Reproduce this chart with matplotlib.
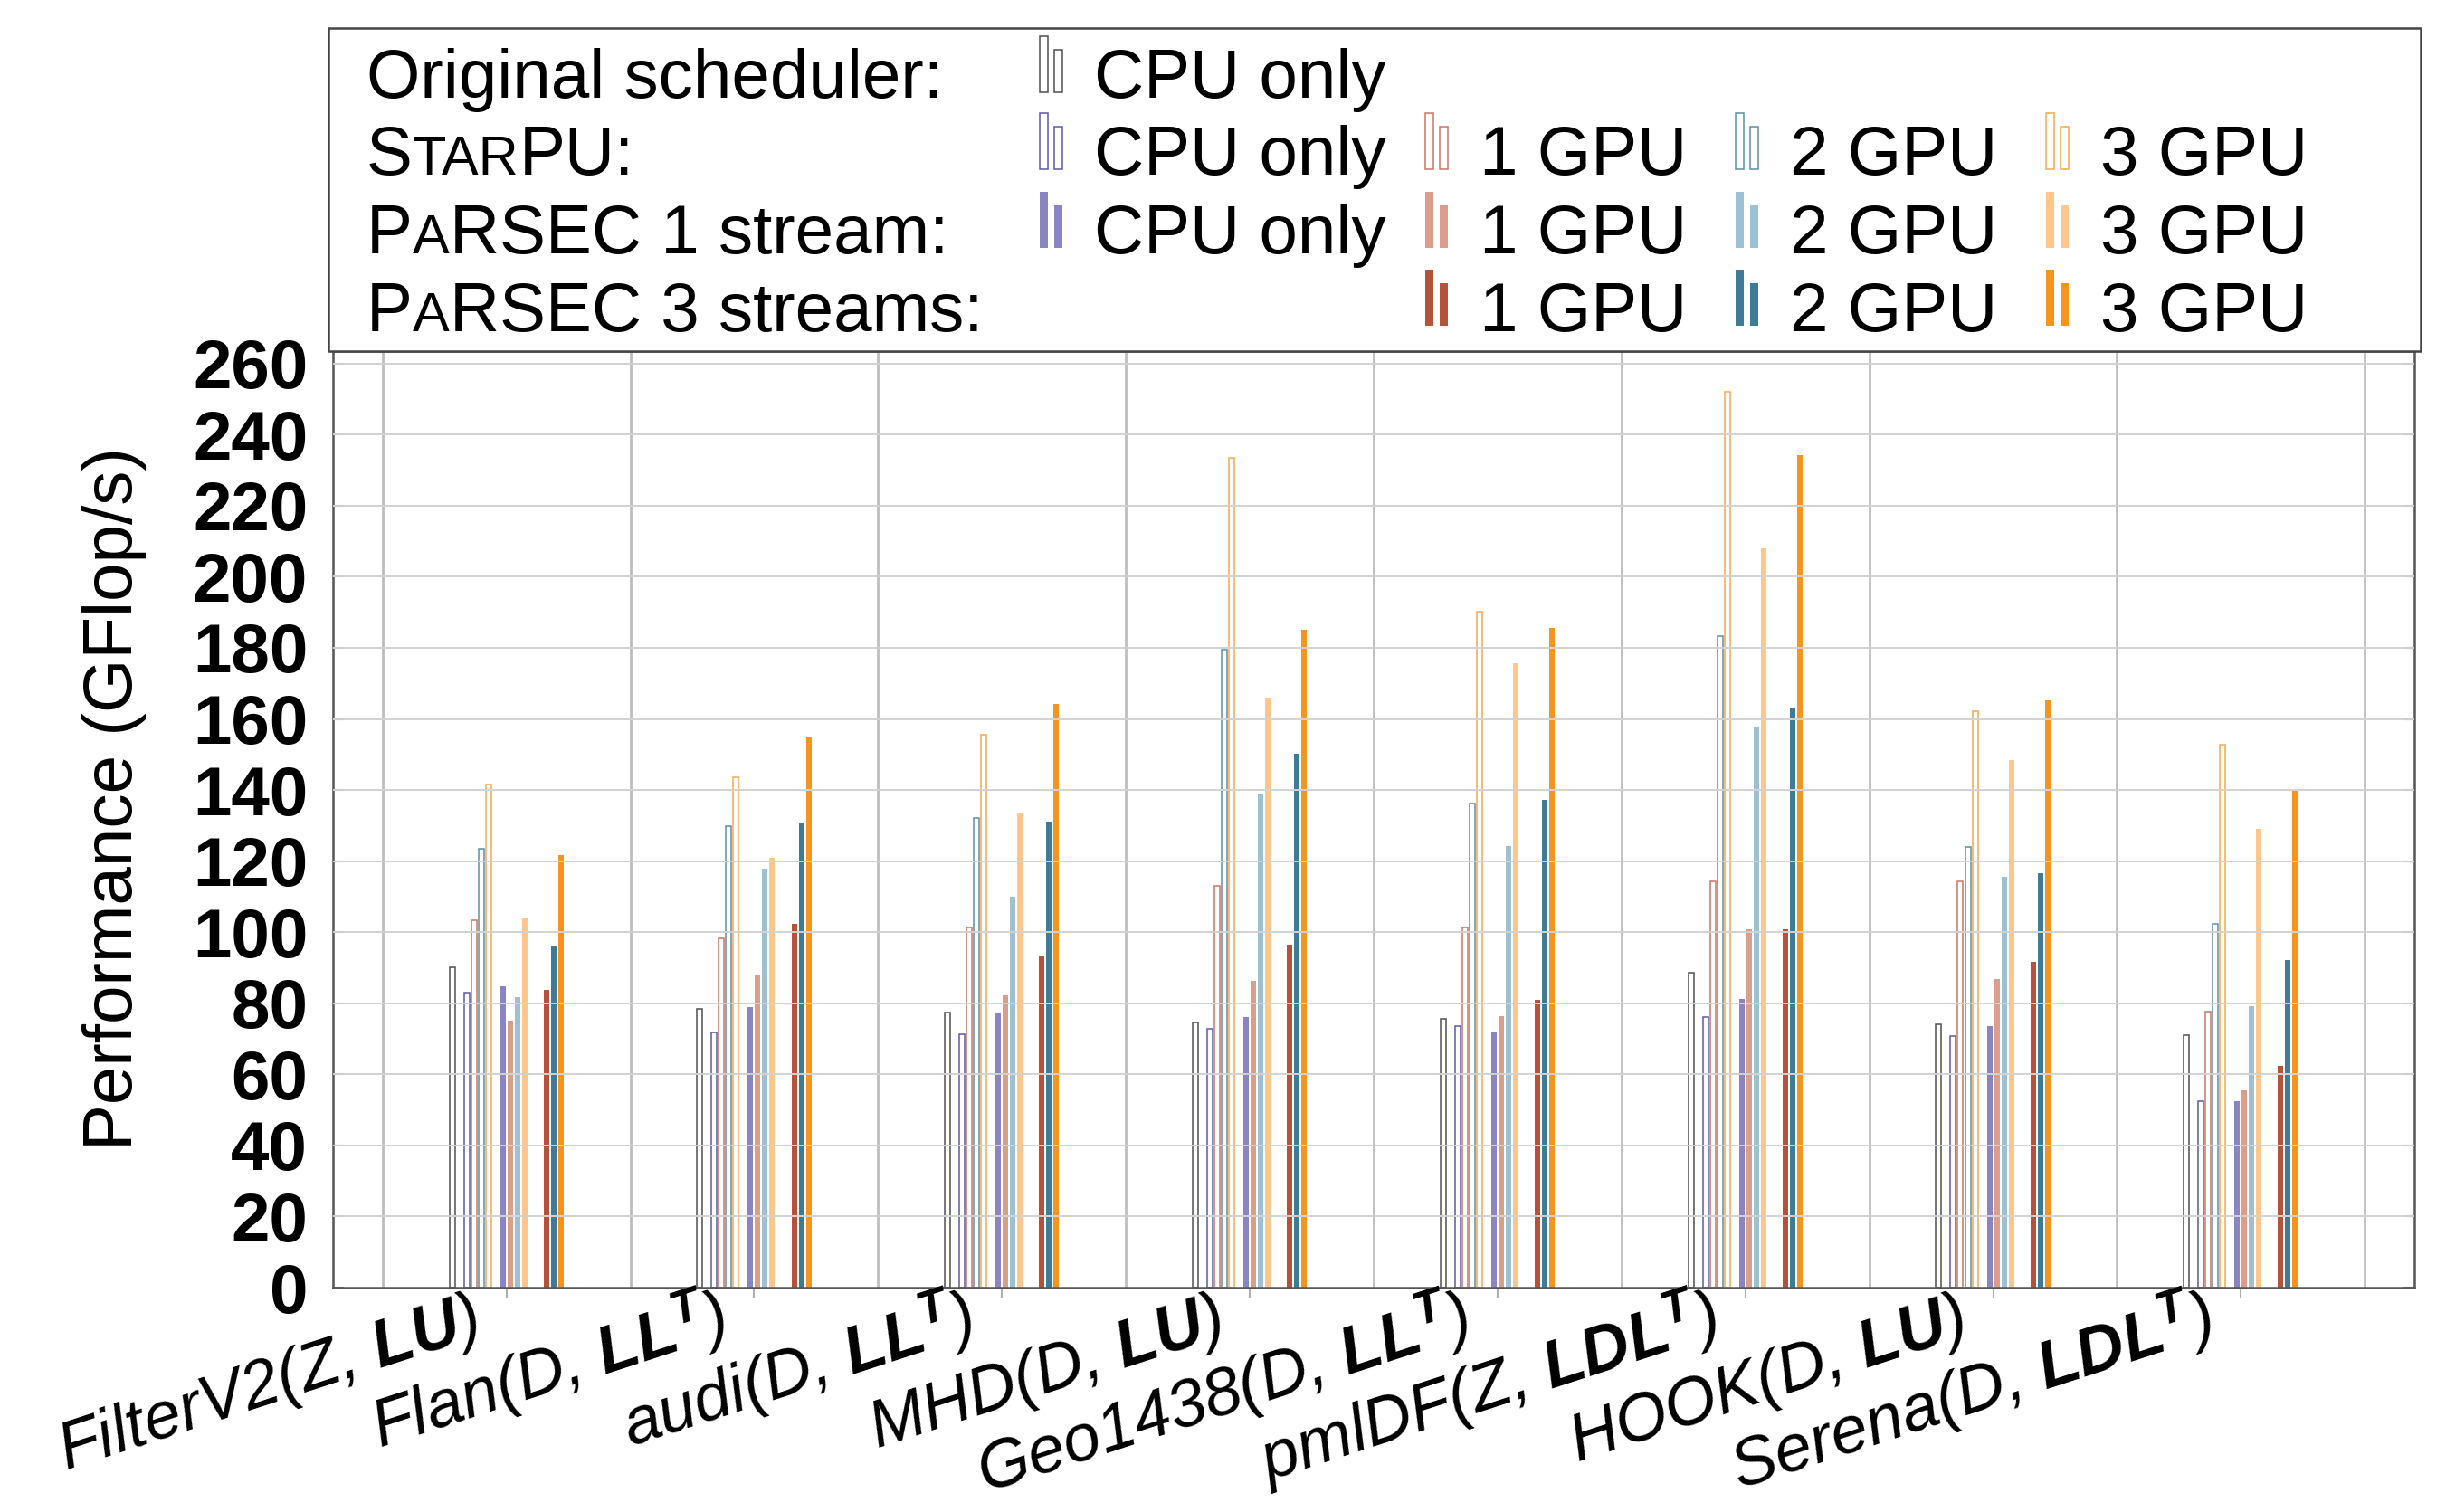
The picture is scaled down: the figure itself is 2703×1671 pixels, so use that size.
import matplotlib
matplotlib.use("Agg")
from matplotlib import pyplot as plt
from matplotlib.patches import Rectangle
import numpy as np

# fonts: Helvetica-like everywhere, bold italic for the factorization names
plt.rcParams['font.family'] = ['Liberation Sans', 'DejaVu Sans']
plt.rcParams['mathtext.fontset'] = 'custom'
plt.rcParams['mathtext.rm'] = 'Liberation Sans:italic'
plt.rcParams['mathtext.it'] = 'Liberation Sans:italic'
plt.rcParams['mathtext.bf'] = 'Liberation Sans:italic:bold'

W, H = 2703, 1671
FS = 55

matrices = [r"FilterV2(Z, $\mathbf{LU}$)", r"Flan(D, $\mathbf{LL}^{\mathbf{T}}$)",
            r"audi(D, $\mathbf{LL}^{\mathbf{T}}$)", r"MHD(D, $\mathbf{LU}$)",
            r"Geo1438(D, $\mathbf{LL}^{\mathbf{T}}$)", r"pmlDF(Z, $\mathbf{LDL}^{\mathbf{T}}$)",
            r"HOOK(D, $\mathbf{LU}$)", r"Serena(D, $\mathbf{LDL}^{\mathbf{T}}$)"]

orig_cpu    = [90.0, 78.3, 77.3, 74.5, 75.7, 88.6, 74.2, 71.1]
starpu_cpu  = [83.0, 71.9, 71.4, 72.8, 73.7, 76.1, 70.7, 52.5]
starpu_1gpu = [103.4, 98.3, 101.4, 113.1, 101.4, 114.4, 114.4, 77.6]
starpu_2gpu = [123.4, 129.8, 132.2, 179.5, 136.3, 183.3, 124.1, 102.4]
starpu_3gpu = [141.6, 143.5, 155.6, 233.5, 190.2, 252.1, 162.3, 152.8]
p1_cpu      = [84.8, 79.0, 77.1, 76.1, 72.1, 81.2, 73.7, 52.5]
p1_1gpu     = [75.2, 88.1, 82.3, 86.4, 76.4, 100.7, 86.9, 55.6]
p1_2gpu     = [81.6, 117.9, 110.0, 138.7, 124.3, 157.6, 115.7, 79.2]
p1_3gpu     = [104.1, 121.0, 133.7, 166.1, 175.7, 208.1, 148.5, 129.1]
p3_1gpu     = [83.8, 102.4, 93.5, 96.5, 80.9, 100.8, 91.6, 62.5]
p3_2gpu     = [96.0, 130.6, 131.1, 150.2, 137.2, 163.3, 116.5, 92.1]
p3_3gpu     = [121.8, 154.9, 164.2, 185.2, 185.7, 234.1, 165.2, 140.1]

# (values, slot, colour, filled)
series = [
    (orig_cpu,    -7.5, '#505050', False),
    (starpu_cpu,  -5.5, '#5d59ab', False),
    (starpu_1gpu, -4.5, '#cc7760', False),
    (starpu_2gpu, -3.5, '#5a90a9', False),
    (starpu_3gpu, -2.5, '#f8a84e', False),
    (p1_cpu,      -0.5, '#8a84c2', True),
    (p1_1gpu,      0.5, '#dc9e8a', True),
    (p1_2gpu,      1.5, '#9dc0d2', True),
    (p1_3gpu,      2.5, '#fec68a', True),
    (p3_1gpu,      5.5, '#b7523a', True),
    (p3_2gpu,      6.5, '#3d7b96', True),
    (p3_3gpu,      7.5, '#f7941d', True),
]

SLOT = 8 / 273.6
BW = 6 / 273.6

fig = plt.figure(figsize=(W / 100, H / 100), dpi=100)
ax = fig.add_axes([368 / W, 1 - 1423 / H, 2300 / W, 1035 / H])

x = np.arange(len(matrices))
for vals, slot, col, filled in series:
    if filled:
        ax.bar(x + slot * SLOT, vals, BW, color=col, linewidth=0, zorder=2)
    else:
        ax.bar(x + slot * SLOT, vals, BW, facecolor='white', edgecolor=col,
               linewidth=1.1, zorder=2)

ax.set_xlim(-0.7, 7.7)
ax.set_ylim(0, 263.5)
for yv in range(20, 261, 20):
    ax.axhline(yv, color='#d2d2d2', lw=1.4, zorder=3)
for b in np.arange(-0.5, 8, 1):
    ax.axvline(b, color='#bebebe', lw=2.0, zorder=1)

ax.set_yticks(range(0, 261, 20))
ax.set_yticklabels([str(v) for v in range(0, 261, 20)], fontsize=FS, fontweight='bold')
ax.tick_params(axis='y', direction='in', length=8.6, width=1.5, color='#888888',
               left=True, right=True, pad=20)
ax.set_xticks(x)
ax.set_xticklabels([])
ax.tick_params(axis='x', direction='out', length=8.6, width=1.5, color='#b0b0b0')
for s in ax.spines.values():
    s.set_color('#555555')
    s.set_linewidth(1.8)

trans = ax.get_xaxis_transform()
for i, lab in enumerate(matrices):
    ax.text(i - 0.095, -0.05, lab, transform=trans, ha='right', va='baseline',
            rotation=18, rotation_mode='anchor', fontsize=53, style='italic',
            clip_on=False)

fig.text(127 / W, 1 - 883 / H, "Performance (GFlop/s)", rotation=90,
         ha='center', va='center', fontsize=FS)

# ---- legend drawn by hand (pixel positions of the image, y from top)
renderer = fig.canvas.get_renderer()
fig.add_artist(Rectangle((363 / W, 1 - 388 / H), (2675 - 363) / W, (388 - 31) / H,
                         transform=fig.transFigure, facecolor='white',
                         edgecolor='#444444', linewidth=1.8, zorder=5))


def runs(xp, yb, parts):
    for txt, fs in parts:
        t = fig.text(xp / W, 1 - yb / H, txt, fontsize=fs, ha='left', va='baseline', zorder=6)
        xp += t.get_window_extent(renderer).width


def glyph(xp, yb, col, filled):
    bottom = yb - 6
    for dx, h in [(0, 62), (16, 47)]:
        if filled:
            r = Rectangle(((xp + dx) / W, 1 - bottom / H), 9 / W, h / H,
                          facecolor=col, linewidth=0)
        else:
            r = Rectangle(((xp + dx) / W, 1 - bottom / H), 9 / W, h / H,
                          facecolor='white', edgecolor=col, linewidth=1.1)
        r.set_transform(fig.transFigure)
        r.set_zorder(6)
        fig.add_artist(r)


rows_y = [108, 193, 280, 366]
small = FS * 0.8
runs(405, rows_y[0], [("Original scheduler:", FS)])
runs(405, rows_y[1], [("S", FS), ("TAR", small), ("PU:", FS)])
runs(405, rows_y[2], [("P", FS), ("A", small), ("RSEC 1 stream:", FS)])
runs(405, rows_y[3], [("P", FS), ("A", small), ("RSEC 3 streams:", FS)])

col_x = [1149, 1575, 1918, 2261]
col_txt = ["CPU only", "1 GPU", "2 GPU", "3 GPU"]
# legend entries: (row, column, series index)
entries = [(0, 0, 0), (1, 0, 1), (1, 1, 2), (1, 2, 3), (1, 3, 4),
           (2, 0, 5), (2, 1, 6), (2, 2, 7), (2, 3, 8),
           (3, 1, 9), (3, 2, 10), (3, 3, 11)]
for r, c, k in entries:
    _, _, col, filled = series[k]
    glyph(col_x[c], rows_y[r], col, filled)
    runs(col_x[c] + 60, rows_y[r], [(col_txt[c], FS)])

fig.savefig("out.png", dpi=100)
